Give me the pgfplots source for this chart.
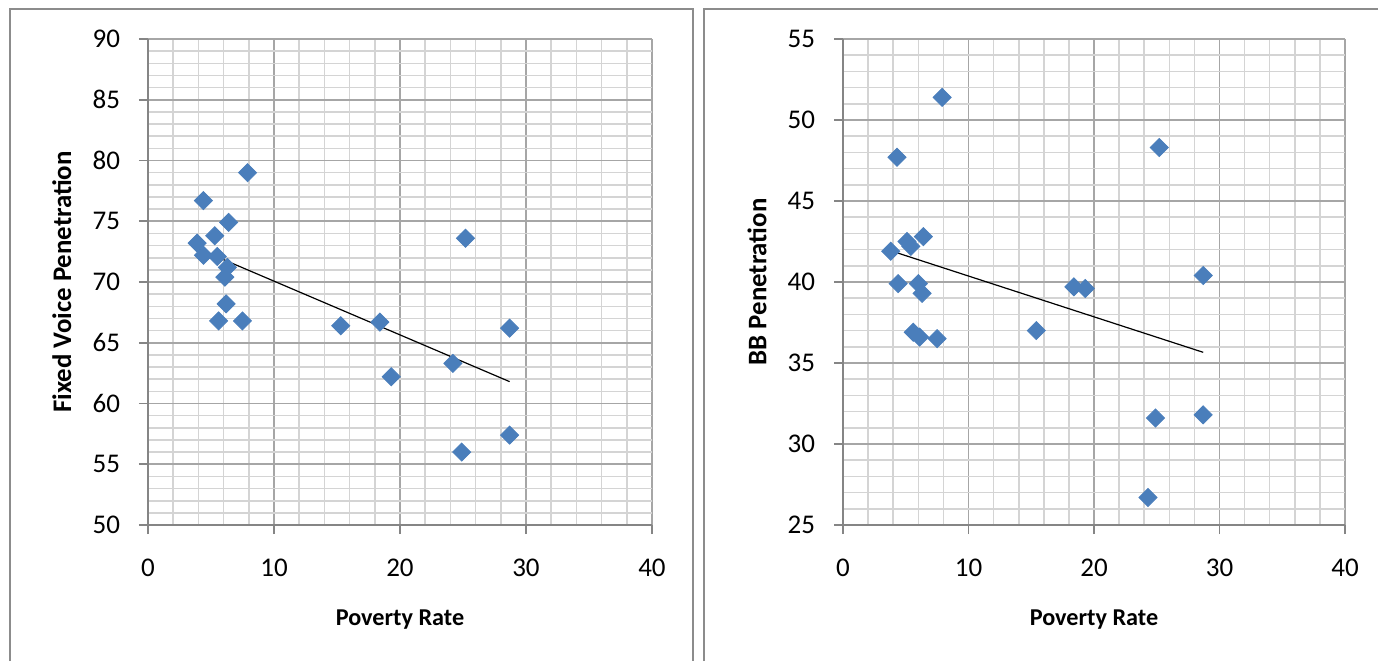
\documentclass[border=0pt]{standalone}
\usepackage{pgfplots}
\pgfplotsset{compat=1.18}
\usepackage{fontspec}
\setmainfont{Carlito}
\definecolor{mk}{HTML}{4A7EBB}
\definecolor{majg}{HTML}{A6A6A6}
\definecolor{ming}{HTML}{D4D4D4}
\definecolor{frame}{HTML}{8C8C8C}
\pgfplotsset{
  myax/.style={
    scale only axis,
    anchor=south west,
    axis x line*=bottom, axis y line*=left,
    axis line style={majg!80!black, line width=0.8pt, -},
    xmin=0, xmax=40, xtick={0,10,20,30,40},
    minor x tick num=4, minor y tick num=4,
    grid=both,
    major grid style={majg, line width=0.8pt},
    minor grid style={ming, line width=0.8pt},
    tick align=outside, major tick length=4.5pt, minor tick length=0pt,
    tick style={majg!80!black, line width=0.8pt},
    /pgf/number format/assume math mode=true,
    ticklabel style={font=\fontsize{13.5}{16}\selectfont},
    xticklabel style={anchor=center, yshift=-17pt},
    yticklabel style={anchor=east, xshift=-6pt},
    xlabel style={font=\fontsize{12.1}{14}\selectfont\bfseries, at={(axis description cs:0.5,-0.1955)}, anchor=center},
    ylabel style={font=\fontsize{13.4}{15}\selectfont\bfseries, at={(axis description cs:-0.171,0.5)}, anchor=center},
    xlabel={Poverty Rate},
  }
}
\begin{document}
\begin{tikzpicture}[x=0.5pt,y=0.5pt]
\useasboundingbox (0,0) rectangle (1378,661);
\draw[frame, line width=1.2pt] (10,0) -- (10,652) -- (693,652) -- (693,0);
\draw[frame, line width=1.2pt] (704,0) -- (704,652) -- (1390,652);
\begin{axis}[myax, at={(74pt,68pt)}, width=252pt, height=243pt,
  ymin=50, ymax=90, ytick={50,55,...,90},
  ylabel={Fixed Voice Penetration}]
\addplot[only marks, mark=square*, mark size=3.2pt, mark options={rotate=45, fill=mk, draw=mk}] coordinates {
(3.9,73.2) (4.4,76.7) (4.4,72.2) (5.3,73.8) (5.5,72.1) (5.6,66.8) (6.1,70.4) (6.2,68.2) (6.3,71.2) (6.4,74.9)
(7.5,66.8) (7.9,79.0) (15.3,66.4) (18.4,66.7) (19.3,62.2) (24.2,63.3) (24.9,56.0) (25.2,73.6) (28.7,66.2) (28.7,57.4)};
\addplot[black, line width=0.6pt, no marks] coordinates {(3.9,72.77) (28.7,61.8)};
\end{axis}
\begin{axis}[myax, at={(421.5pt,68pt)}, width=251pt, height=243pt,
  ymin=25, ymax=55, ytick={25,30,...,55},
  ylabel={BB Penetration}]
\addplot[only marks, mark=square*, mark size=3.2pt, mark options={rotate=45, fill=mk, draw=mk}] coordinates {
(3.8,41.9) (4.3,47.7) (4.4,39.9) (5.1,42.5) (5.4,42.2) (5.6,36.9) (6.0,39.9) (6.1,36.6) (6.3,39.3) (6.4,42.8)
(7.5,36.5) (7.9,51.4) (15.4,37.0) (18.4,39.7) (19.3,39.6) (24.3,26.7) (24.9,31.6) (25.2,48.3) (28.7,40.4) (28.7,31.8)};
\addplot[black, line width=0.6pt, no marks] coordinates {(3.8,41.93) (28.7,35.66)};
\end{axis}
\end{tikzpicture}
\end{document}
